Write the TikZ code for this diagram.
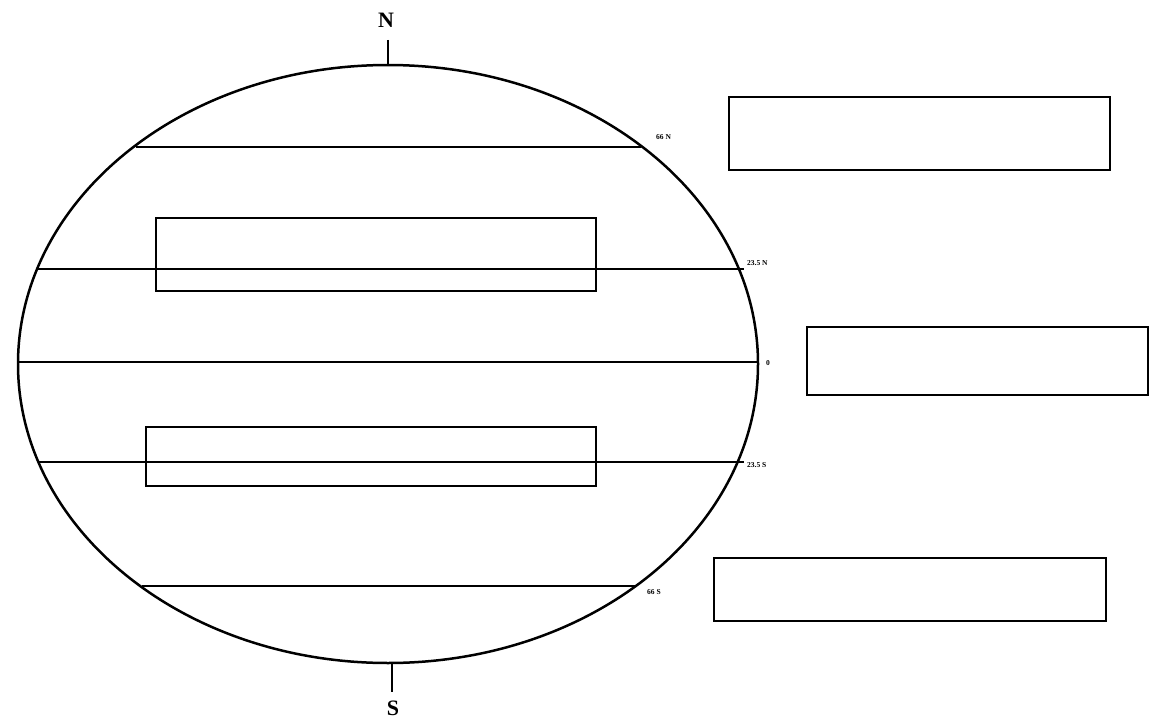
\documentclass[tikz,border=0pt]{standalone}
\usepackage{fontspec}
\setmainfont{Liberation Serif}
\usetikzlibrary{shapes.geometric}
\begin{document}
\begin{tikzpicture}[x=1pt,y=-1pt,
  lat/.style={line width=2.4pt},
  answerbox/.style={draw,line width=1.9pt,inner sep=0pt},
  deg/.style={font=\bfseries\fontsize{7.5}{7.5}\selectfont,inner sep=0pt,anchor=west},
  pole/.style={font=\bfseries\fontsize{22}{22}\selectfont,inner sep=0pt}]
\useasboundingbox (0,0) rectangle (1149,725);
% globe
\draw[line width=2.5pt] (388,364) ellipse [x radius=370, y radius=299];
% latitude lines
\coordinate (n66a) at (136,147); \coordinate (n66b) at (641,147);
\coordinate (n23a) at (37,269);  \coordinate (n23b) at (744,269);
\coordinate (eqa) at (18,362);   \coordinate (eqb) at (758,362);
\coordinate (s23a) at (38,462);  \coordinate (s23b) at (744,462);
\coordinate (s66a) at (142,586); \coordinate (s66b) at (636,586);
\draw[lat] (n66a) -- (n66b);
\draw[lat] (n23a) -- (n23b);
\draw[lat] (eqa) -- (eqb);
\draw[lat] (s23a) -- (s23b);
\draw[lat] (s66a) -- (s66b);
% poles
\coordinate (nt) at (388,40); \coordinate (nb) at (388,65);
\coordinate (st) at (392,663); \coordinate (sb) at (392,692);
\draw[line width=2.5pt] (nt) -- (nb);
\draw[line width=2.5pt] (st) -- (sb);
\node[pole] (N) at (386,20) {N};
\node[pole] (S) at (393,708) {S};
% labels
\node[deg] (l66n) at (656,137) {66 N};
\node[deg] (l23n) at (747,263) {23.5 N};
\node[deg] (l0) at (766,363) {0};
\node[deg] (l23s) at (747,465) {23.5 S};
\node[deg] (l66s) at (647,592) {66 S};
% boxes
\node[answerbox,minimum width=381pt,minimum height=73pt] (b1) at (919.5,133.5) {};
\node[answerbox,minimum width=440pt,minimum height=73pt] (b2) at (376,254.5) {};
\node[answerbox,minimum width=341pt,minimum height=68pt] (b3) at (977.5,361) {};
\node[answerbox,minimum width=450pt,minimum height=59pt] (b4) at (371,456.5) {};
\node[answerbox,minimum width=392pt,minimum height=63pt] (b5) at (910,589.5) {};
\end{tikzpicture}
\end{document}
